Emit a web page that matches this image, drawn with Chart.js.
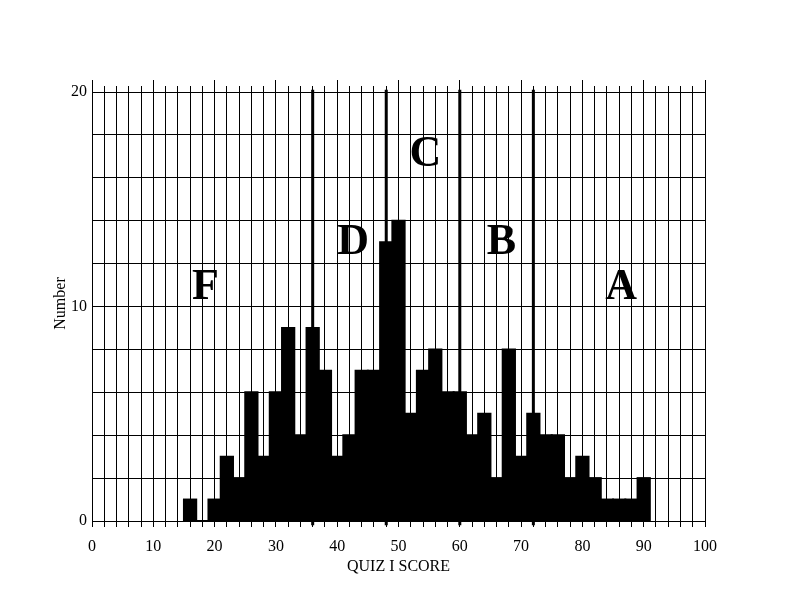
<!DOCTYPE html>
<html>
<head>
<meta charset="utf-8">
<script src="https://cdn.jsdelivr.net/npm/chart.js@4"></script>
<style>
  html, body { margin: 0; padding: 0; background: #ffffff; }
  #wrap { width: 792px; height: 612px; }
</style>
</head>
<body>
<div id="wrap"><canvas id="c" width="792" height="612"></canvas></div>
<script>
// Histogram bin centres (score) and counts
const bins = [16,18,20,22,24,26,28,30,32,34,36,38,40,42,44,46,48,50,52,54,56,58,60,62,64,66,68,70,72,74,76,78,80,82,84,86,88,90];
const counts = [1,0,1,3,2,6,3,6,9,4,9,7,3,4,7,7,13,14,5,7,8,6,6,4,5,2,8,3,5,4,4,2,3,2,1,1,1,2];

// Grade cut-off scores
const cutoffs = [36, 48, 60, 72];
const cutoffTop = 20.1;
const cutoffBottom = -0.2;

// Grade letters and their positions (score, number)
const gradeLetters = ['F', 'D', 'C', 'B', 'A'];
const letterX = [18.5, 42.6, 54.4, 66.8, 86.3];
const letterY = [10.9, 13.0, 17.1, 13.0, 10.9];

// Tick labels
const xTickLabels = [0, 10, 20, 30, 40, 50, 60, 70, 80, 90, 100];
const yTickLabels = [0, 10, 20];

const FONT = '"Liberation Serif", "Times New Roman", serif';

const barData = bins.map((b, i) => ({ x: b, y: counts[i] }));
const cutoffSets = cutoffs.map(c => ({
  type: 'line',
  data: [{ x: c, y: cutoffTop }, { x: c, y: cutoffBottom }],
  borderColor: '#000',
  borderWidth: 3,
  pointRadius: 0,
  fill: false,
  clip: false,
  tension: 0
}));

const lettersPlugin = {
  id: 'letters',
  afterDatasetsDraw(chart) {
    const { ctx, scales } = chart;
    ctx.save();
    ctx.fillStyle = '#000';
    ctx.font = 'bold 44px ' + FONT;
    ctx.textAlign = 'center';
    ctx.textBaseline = 'middle';
    gradeLetters.forEach((L, i) => {
      ctx.fillText(L, scales.x.getPixelForValue(letterX[i]), scales.y.getPixelForValue(letterY[i]));
    });
    ctx.restore();
  }
};

new Chart(document.getElementById('c'), {
  type: 'bar',
  data: {
    datasets: [
      {
        type: 'bar',
        data: barData,
        backgroundColor: '#000',
        borderWidth: 0,
        inflateAmount: 1,
        barPercentage: 1.0,
        categoryPercentage: 1.0
      },
      ...cutoffSets
    ]
  },
  plugins: [lettersPlugin],
  options: {
    responsive: false,
    animation: false,
    devicePixelRatio: 1,
    layout: { padding: { top: 80, right: 87, bottom: 36, left: 51 } },
    plugins: { legend: { display: false }, tooltip: { enabled: false } },
    scales: {
      x: {
        type: 'linear',
        position: 'bottom',
        min: 0, max: 100,
        offset: false,
        grid: { offset: false, color: '#000', lineWidth: 1, drawTicks: true, tickLength: 6, tickColor: '#000' },
        border: { display: true, color: '#000', width: 1 },
        ticks: {
          stepSize: 2,
          autoSkip: false,
          maxRotation: 0,
          padding: 10,
          color: '#000',
          font: { family: FONT, size: 16 },
          callback: v => xTickLabels.includes(v) ? String(v) : ''
        },
        title: { display: true, text: 'QUIZ I SCORE', color: '#000', font: { family: FONT, size: 16 }, padding: { top: 0, bottom: 0 } },
        afterFit: s => { s.height = 55; }
      },
      x2: {
        type: 'linear',
        position: 'top',
        min: 0, max: 100,
        offset: false,
        grid: { offset: false, display: true, drawOnChartArea: false, drawTicks: true, tickLength: 6, color: '#000', tickColor: '#000' },
        border: { display: false },
        ticks: { stepSize: 10, display: false },
        afterFit: s => { s.height = 6; }
      },
      y: {
        type: 'linear',
        min: 0, max: 20.28,
        grid: { color: '#000', lineWidth: 1, drawTicks: false },
        border: { display: true, color: '#000', width: 1 },
        ticks: {
          stepSize: 2,
          includeBounds: false,
          autoSkip: false,
          padding: 5,
          color: '#000',
          font: { family: FONT, size: 16 },
          callback: v => yTickLabels.includes(v) ? String(v) : ''
        },
        title: { display: true, text: 'Number', color: '#000', font: { family: FONT, size: 16 }, padding: { top: 0, bottom: 0 } },
        afterFit: s => { s.width = 41; }
      }
    }
  }
});
</script>
</body>
</html>
